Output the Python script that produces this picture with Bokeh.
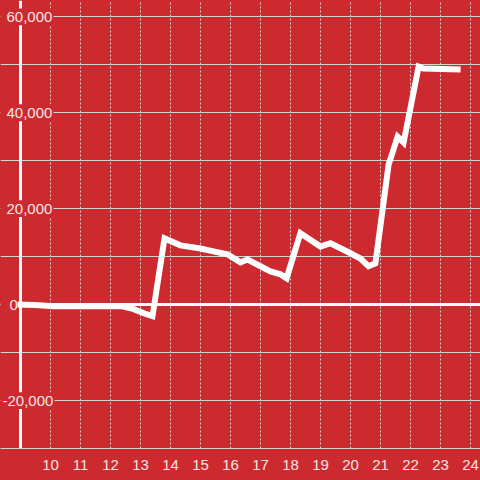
from bokeh.plotting import figure
from bokeh.models import Range1d, FixedTicker, Grid
from bokeh.core.properties import value
from bokeh.embed import file_html
from bokeh.resources import INLINE

# ---- data ----
x_vals = [8.8, 9.5, 10.1, 12.4, 12.75, 13.2, 13.4, 13.8, 14.33, 15.0, 15.43, 15.9,
          16.33, 16.57, 17.33, 17.67, 17.87, 18.33, 19.0, 19.33, 20.0, 20.33,
          20.6, 20.83, 21.27, 21.57, 21.77, 22.27, 22.43, 23.67]
y_vals = [0, -100, -350, -350, -900, -2000, -2400, 13800, 12350, 11700, 11100, 10500,
          8800, 9400, 6900, 6300, 5500, 14900, 12100, 12800, 10700, 9600,
          8000, 8600, 29200, 35000, 33800, 49600, 49200, 49000]

x_ticks = list(range(10, 25))
y_grid_ticks = [-20000, -10000, 0, 10000, 20000, 30000, 40000, 50000, 60000]
y_label_ticks = [-20000, 0, 20000, 40000, 60000]
y_label_texts = ["-20,000", "0", "20,000", "40,000", "60,000"]

RED = "#cc2a2f"
GRID = "#d4d4d4"
TXT = "#f4e4e4"
FONT = "Liberation Sans"

X0, X1 = 8.3333, 24.3333
PX = (X1 - X0) / 480.0  # x units per pixel

# pixel layout of the y labels: text left, box left, box right
label_px = {"-20,000": (2, 0, 54), "0": (9, 0, 17), "20,000": (6, 0, 53),
            "40,000": (6, 0, 53), "60,000": (6, 0, 53)}
BOX_HALF = 1750  # half height of label boxes in y units

p = figure(width=480, height=480,
           x_range=Range1d(X0, X1), y_range=Range1d(-30000, 63400),
           output_backend="svg", toolbar_location=None, y_axis_location=None,
           min_border_left=0, min_border_right=0, min_border_top=0, min_border_bottom=32,
           background_fill_color=RED, border_fill_color=RED, outline_line_color=None)

# x axis
xa = p.xaxis[0]
xa.ticker = FixedTicker(ticks=x_ticks)
xa.axis_line_color = GRID
xa.axis_line_width = 1
xa.major_tick_line_color = None
xa.minor_tick_line_color = None
xa.major_label_standoff = 5
xa.major_label_text_font = FONT
xa.major_label_text_font_size = "15px"
xa.major_label_text_color = TXT

# vertical dotted grid
p.xgrid.ticker = FixedTicker(ticks=x_ticks)
p.xgrid.grid_line_color = GRID
p.xgrid.grid_line_dash = "2 2"
p.xgrid.grid_line_width = 1

# horizontal grid
yg = Grid(dimension=1, ticker=FixedTicker(ticks=y_grid_ticks),
          grid_line_color=GRID, grid_line_width=1)
p.add_layout(yg)

# y axis line and zero line
p.vspan(x=[9], line_color="white", line_width=3)
p.hspan(y=[0], line_color="white", line_width=3)

# data line
p.line(x_vals, y_vals, line_color="white", line_width=6, line_join="miter")

# y labels with red background boxes
lefts = [X0 + label_px[s][1] * PX for s in y_label_texts]
rights = [X0 + label_px[s][2] * PX for s in y_label_texts]
p.quad(left=lefts, right=rights,
       bottom=[t - BOX_HALF for t in y_label_ticks], top=[t + BOX_HALF for t in y_label_ticks],
       fill_color=RED, line_color=None)
p.text(x=[X0 + label_px[s][0] * PX for s in y_label_texts], y=y_label_ticks, text=y_label_texts,
       text_align="left", text_baseline="middle", text_font=value(FONT),
       text_font_size="15px", text_color=TXT)

html = file_html(p, INLINE, title="chart")
html = html.replace("<head>", "<head><style>html,body{margin:0;padding:0;background:#cc2a2f;overflow:hidden}</style>", 1)
open("out.html", "w").write(html)
